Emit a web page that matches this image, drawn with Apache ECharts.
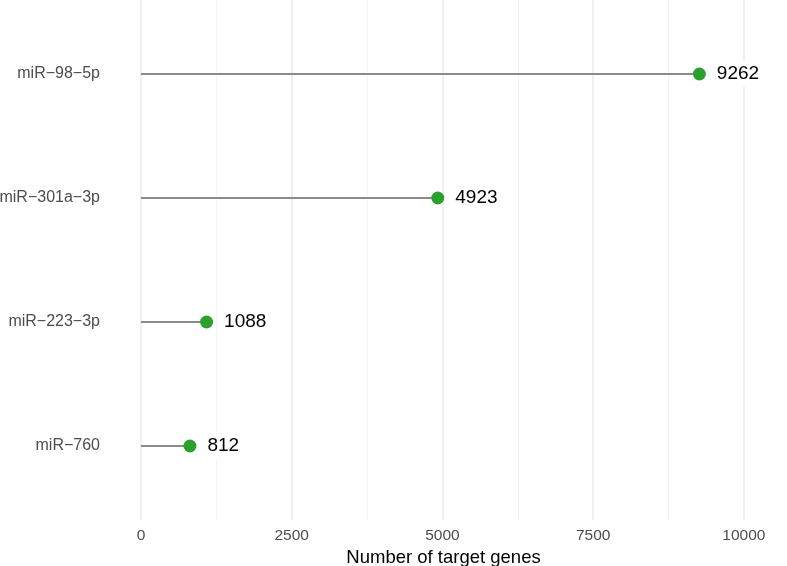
<!DOCTYPE html>
<html>
<head>
<meta charset="utf-8">
<script src="https://cdn.jsdelivr.net/npm/echarts@6/dist/echarts.min.js"></script>
<style>
  html, body { margin: 0; padding: 0; background: #fff; }
  #main { width: 787px; height: 566px; }
</style>
</head>
<body>
<div id="main"></div>
<script>
// data, top to bottom as shown
var mirnas = ['miR−98−5p', 'miR−301a−3p', 'miR−223−3p', 'miR−760'];
var targetGenes = [9262, 4923, 1088, 812];
var xTicks = [0, 2500, 5000, 7500, 10000];

var font = 'Liberation Sans, Arial, Helvetica, sans-serif';
var chart = echarts.init(document.getElementById('main'));

var major = '#ebebeb';
var option = {
  backgroundColor: '#fff',
  animation: false,
  grid: [
    // panel for gridlines / x axis
    { left: 141, right: 13, top: 0, bottom: 46, outerBoundsMode: 'none', containLabel: false },
    // panel for the lollipops (ggplot style 0.6 expansion)
    { left: 141, right: 13, top: 12, bottom: 58, outerBoundsMode: 'none', containLabel: false }
  ],
  xAxis: [
    {
      gridIndex: 0,
      type: 'value',
      min: 0,
      max: 10500,
      interval: 2500,
      axisLine: { show: false },
      axisTick: { show: false },
      axisLabel: {
        color: '#4d4d4d', fontSize: 15.5, fontFamily: font, margin: 8,
        formatter: function (v) { return xTicks.indexOf(v) >= 0 ? String(v) : ''; }
      },
      // last entry hides the line drawn at the axis max
      splitLine: { show: true, lineStyle: { color: [major, major, major, major, major, 'rgba(0,0,0,0)'], width: 1.5 } },
      minorTick: { show: false, splitNumber: 2 },
      minorSplitLine: { show: true, lineStyle: { color: '#f4f4f4', width: 1 } },
      name: 'Number of target genes',
      nameLocation: 'middle',
      nameGap: 17,
      // padding on the right nudges the title left, to the panel centre
      nameTextStyle: { color: '#000', fontSize: 18.5, fontFamily: font, padding: [0, 28, 0, 0] }
    },
    {
      gridIndex: 1,
      type: 'value',
      min: 0,
      max: 10500,
      show: false
    }
  ],
  yAxis: [
    {
      gridIndex: 0,
      type: 'value',
      show: false
    },
    {
      gridIndex: 1,
      type: 'category',
      data: mirnas,
      inverse: true,
      axisLine: { show: false },
      axisTick: { show: false },
      splitLine: { show: false },
      axisLabel: { color: '#4d4d4d', fontSize: 16, fontFamily: font, margin: 41 }
    }
  ],
  series: [
    {
      type: 'bar',
      xAxisIndex: 1,
      yAxisIndex: 1,
      data: targetGenes,
      barWidth: 2,
      itemStyle: { color: '#8a8a8a' },
      silent: true
    },
    {
      type: 'scatter',
      xAxisIndex: 1,
      yAxisIndex: 1,
      data: targetGenes,
      symbol: 'circle',
      symbolSize: 13,
      itemStyle: { color: '#2ca02c', opacity: 1 },
      label: {
        show: true,
        position: 'right',
        distance: 5,
        color: '#000',
        fontSize: 19,
        fontFamily: font,
        backgroundColor: '#fff',
        padding: [4, 6, 2, 6]
      },
      z: 3
    }
  ]
};

chart.setOption(option);
</script>
</body>
</html>
